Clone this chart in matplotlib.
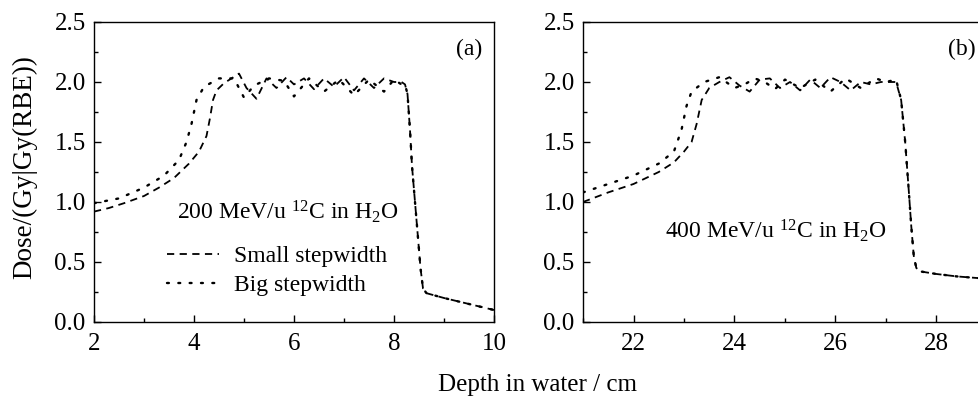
import matplotlib
matplotlib.use('Agg')
import matplotlib.pyplot as plt
import numpy as np

plt.rcParams['font.family'] = ['Liberation Serif', 'DejaVu Serif']
plt.rcParams['mathtext.fontset'] = 'custom'
plt.rcParams['mathtext.rm'] = 'Liberation Serif'
plt.rcParams['mathtext.it'] = 'Liberation Serif:italic'

# panel (a): 200 MeV/u
a_small_x = [2.0, 2.3, 2.6, 3.0, 3.3, 3.6, 3.9, 4.1, 4.25, 4.32, 4.38, 4.45, 4.6, 4.75, 4.9,
             5.05, 5.25, 5.45, 5.65, 5.85, 6.0, 6.2, 6.4, 6.6, 6.8, 7.0, 7.2, 7.4, 7.6, 7.8,
             8.0, 8.15, 8.22, 8.27, 8.32, 8.36, 8.42, 8.48, 8.53, 8.58, 8.65, 9.0, 9.5, 10.0]
a_small_y = [0.92, 0.95, 0.99, 1.05, 1.12, 1.2, 1.32, 1.42, 1.55, 1.7, 1.85, 1.93, 1.99, 2.03, 2.07,
             1.95, 1.86, 2.03, 1.95, 2.04, 1.98, 2.03, 1.94, 2.03, 1.96, 2.04, 1.93, 2.03, 1.95, 2.03,
             2.0, 2.0, 1.98, 1.9, 1.6, 1.3, 1.0, 0.7, 0.45, 0.28, 0.24, 0.2, 0.15, 0.1]
a_big_x = [2.0, 2.5, 3.0, 3.4, 3.7, 3.85, 3.95, 4.05, 4.2, 4.5, 4.8, 5.0, 5.2, 5.5, 5.8, 6.0,
           6.3, 6.6, 6.9, 7.2, 7.5, 7.8, 8.0, 8.15, 8.22, 8.27, 8.32, 8.36, 8.42, 8.48, 8.53,
           8.58, 8.65, 9.0, 9.5, 10.0]
a_big_y = [0.99, 1.03, 1.12, 1.22, 1.35, 1.5, 1.65, 1.85, 1.96, 2.03, 2.03, 1.87, 1.97, 2.03, 2.01, 1.88,
           2.03, 1.92, 2.02, 1.89, 2.02, 1.92, 2.02, 1.98, 1.98, 1.9, 1.6, 1.3, 1.0, 0.7, 0.45,
           0.28, 0.24, 0.2, 0.15, 0.1]

# panel (b): 400 MeV/u
b_small_x = [21.0, 21.5, 22.0, 22.5, 22.8, 23.0, 23.15, 23.25, 23.35, 23.5, 23.7, 23.9, 24.1, 24.3,
             24.5, 24.7, 24.9, 25.1, 25.3, 25.5, 25.7, 25.9, 26.1, 26.3, 26.5, 26.7, 26.9, 27.1,
             27.2, 27.3, 27.38, 27.45, 27.5, 27.55, 27.6, 27.7, 28.0, 28.4, 29.0]
b_small_y = [1.0, 1.08, 1.15, 1.25, 1.33, 1.42, 1.5, 1.65, 1.85, 1.95, 2.0, 2.04, 1.97, 1.92,
             2.02, 2.03, 1.95, 2.0, 1.93, 2.02, 1.95, 2.04, 2.0, 1.93, 2.0, 1.98, 2.0, 2.0,
             2.0, 1.85, 1.5, 1.1, 0.8, 0.55, 0.45, 0.42, 0.40, 0.38, 0.36]
b_big_x = [21.0, 21.5, 22.0, 22.5, 22.8, 22.95, 23.05, 23.15, 23.4, 23.7, 24.0, 24.2, 24.4, 24.6,
           24.8, 25.0, 25.3, 25.6, 25.9, 26.2, 26.5, 26.8, 27.0, 27.2, 27.3, 27.38, 27.45, 27.5,
           27.55, 27.6, 27.7, 28.0, 28.4, 29.0]
b_big_y = [1.08, 1.15, 1.22, 1.32, 1.42, 1.6, 1.8, 1.92, 2.0, 2.04, 1.95, 1.98, 2.03, 2.0,
           1.94, 2.02, 1.95, 2.02, 1.92, 2.03, 1.95, 2.03, 2.0, 2.02, 1.85, 1.5, 1.1, 0.8,
           0.55, 0.45, 0.42, 0.40, 0.38, 0.36]

W, H = 979, 396
fig = plt.figure(figsize=(W / 100, H / 100), dpi=100)
ax1 = fig.add_axes([94 / W, 74 / H, 400 / W, 300 / H])
ax2 = fig.add_axes([583 / W, 74 / H, 404 / W, 300 / H])

fs = 18
fs_in = 17
for ax, sx, sy, bx, by in [(ax1, a_small_x, a_small_y, a_big_x, a_big_y),
                           (ax2, b_small_x, b_small_y, b_big_x, b_big_y)]:
    ax.plot(sx, sy, color='black', lw=1.3, linestyle=(0, (4, 3)), label='Small stepwidth')
    ax.plot(bx, by, color='black', lw=1.7, linestyle=(0, (0.8, 4)), dash_capstyle='round',
            label='Big stepwidth')
    ax.set_ylim(0, 2.5)
    ax.set_yticks(np.arange(0, 2.51, 0.5))
    ax.set_yticks(np.arange(0.25, 2.5, 0.5), minor=True)
    ax.tick_params(which='both', direction='in', labelsize=fs, top=False, right=False)
    ax.tick_params(which='major', length=5, width=1)
    ax.tick_params(which='minor', length=3, width=1)
    for s in ax.spines.values():
        s.set_linewidth(1.0)
    ax.tick_params(axis='x', pad=8)
    ax.tick_params(axis='y', pad=6)

ax1.set_xlim(2, 10)
ax1.set_xticks([2, 4, 6, 8, 10])
ax1.set_xticks([3, 5, 7, 9], minor=True)
ax2.set_xlim(21, 29)
ax2.set_xticks([22, 24, 26, 28])
ax2.set_xticks([21, 23, 25, 27, 29], minor=True)
ax2.spines['right'].set_visible(False)

ax1.set_yticklabels(['0.0', '0.5', '1.0', '1.5', '2.0', '2.5'])
ax2.set_yticklabels(['0.0', '0.5', '1.0', '1.5', '2.0', '2.5'])

ax1.text(3.66, 0.92, r'200 MeV/u $^{12}$C in H$_2$O', fontsize=fs_in, va='center', ha='left')
ax2.text(22.62, 0.76, r'400 MeV/u $^{12}$C in H$_2$O', fontsize=fs_in, va='center', ha='left')
ax1.text(9.76, 2.27, '(a)', fontsize=fs_in, ha='right', va='center')
ax2.text(28.77, 2.27, '(b)', fontsize=fs_in, ha='right', va='center')

ax1.legend(loc='upper left', bbox_to_anchor=(0.16, 0.285), frameon=False, fontsize=fs_in,
           handlelength=2.2, handletextpad=0.6, labelspacing=0.3, borderaxespad=0)

fig.text(25 / W, 1 - 167 / H, 'Dose/(Gy|Gy(RBE))', rotation=90, fontsize=19.5,
         ha='center', va='center')
fig.text(538 / W, 1 - 385 / H, 'Depth in water / cm', fontsize=fs, ha='center', va='center')

fig.savefig('out.png', dpi=100)
